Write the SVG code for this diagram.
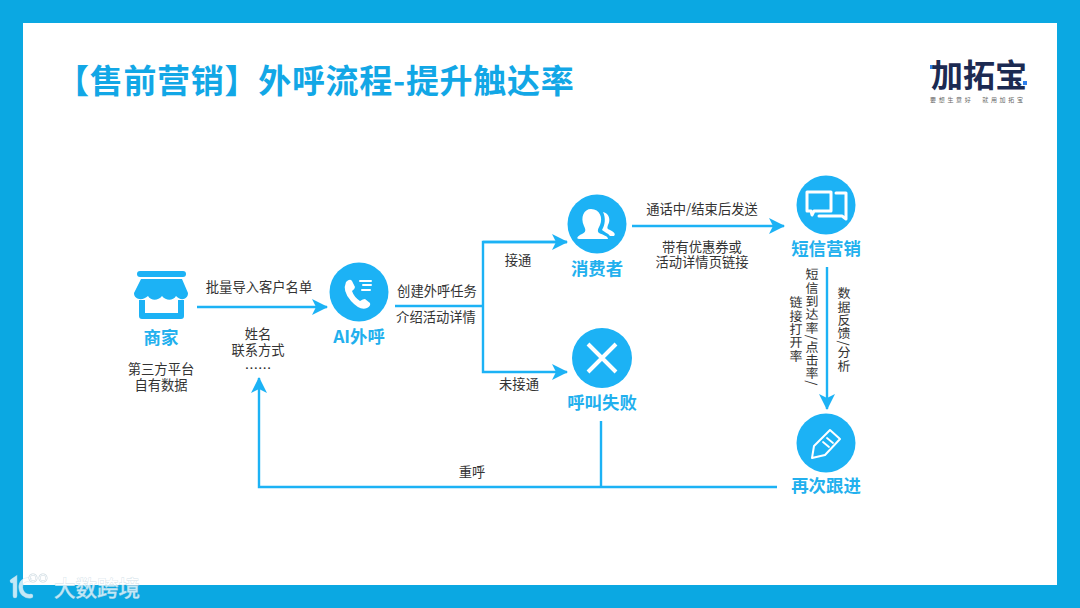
<svg xmlns="http://www.w3.org/2000/svg" width="1080" height="608" viewBox="0 0 1080 608">
<style>
text{font-family:"Noto Sans CJK SC","Noto Sans",sans-serif}
.t{font-size:13.3px;fill:#333;text-anchor:middle}
.n{font-size:17.4px;font-weight:700;fill:#22b0ee;text-anchor:middle}
.v{font-size:13px;fill:#333;writing-mode:vertical-rl;letter-spacing:.35px;text-rendering:geometricPrecision}
.c{fill:#1cb2f5}
.l{fill:none;stroke:#1cb2f5;stroke-width:2.4}
.i{fill:none;stroke:#fff;stroke-width:3;stroke-linejoin:round;stroke-linecap:round}
.f{fill:#fff}
.w{fill:none;stroke:#fff;stroke-width:3.5;stroke-linecap:round}
</style>
<defs><marker id="a" viewBox="0 0 16 16" refX="15" refY="8" markerWidth="16" markerHeight="16" markerUnits="userSpaceOnUse" orient="auto"><path d="M0 0L16 8L0 16L4 8Z" fill="#1cb2f5"/></marker></defs>
<rect width="1080" height="608" fill="#0ba8e2"/>
<rect x="23" y="23" width="1034" height="562" fill="#fff"/>
<text x="56" y="93" style="font-size:33px;font-weight:700;fill:#12a7e6;letter-spacing:.7px">【售前营销】外呼流程-提升触达率</text>
<g id="logo">
<rect x="930" y="65" width="4" height="4" fill="#2f80ed"/>
<rect x="1023" y="81" width="4" height="4" fill="#2f80ed"/>
<text x="979" y="87" style="font-size:32px;font-weight:700;fill:#1c2a52;text-anchor:middle">加拓宝</text>
<text x="930" y="102" style="font-size:6px;fill:#666;letter-spacing:2.7px">要想生意好　就用加拓宝</text>
</g>
<g id="connectors">
<path class="l" d="M197 307H327" marker-end="url(#a)"/>
<path class="l" d="M395 306H483"/>
<path class="l" d="M567 242H483V372H567" marker-end="url(#a)"/>
<path class="l" d="M483 242H567" marker-end="url(#a)"/>
<path class="l" d="M632 226H784" marker-end="url(#a)"/>
<path class="l" d="M827 267V409" marker-end="url(#a)"/>
<path class="l" d="M777 487H259V378" marker-end="url(#a)"/>
<path class="l" d="M601 421V487"/>
</g>
<g id="merchant">
<rect x="137" y="271" width="49" height="6" rx="3" class="c"/>
<path class="c" d="M141 279H182L188 293C188 300 180 301 176 296C173 301 166 301 162 296C158 301 151 301 148 296C143 301 134 300 134 293Z"/>
<path class="c" d="M139 300V316Q139 319 142 319H181Q184 319 184 316V300H178V313H145V300Z"/>
<text class="n" x="161" y="344">商家</text>
<text class="t" x="161" y="374">第三方平台</text>
<text class="t" x="161" y="390">自有数据</text>
</g>
<text class="t" x="259" y="292">批量导入客户名单</text>
<text class="t" x="258" y="339">姓名</text>
<text class="t" x="258" y="355">联系方式</text>
<text class="t" x="258" y="373">……</text>
<g id="ai">
<circle class="c" cx="359" cy="292" r="29.5"/>
<path class="f" d="M346 282Q350 278 352 281L355 287Q355 289 352 291Q354 297 360 301Q363 299 365 299L370 303Q371 306 367 308Q360 311 351 301Q342 291 346 282Z"/>
<path class="i" style="stroke-width:2" d="M360 281H371M363 285H371M362 290H370"/>
<text class="n" x="359" y="343">AI外呼</text>
</g>
<text class="t" x="437" y="296">创建外呼任务</text>
<text class="t" x="436" y="322">介绍活动详情</text>
<text class="t" x="518" y="265">接通</text>
<text class="t" x="519" y="389">未接通</text>
<g id="consumer">
<circle class="c" cx="597" cy="224" r="29.5"/>
<path class="f" d="M591 209C600 209 603 218 600 225C598 229 597 231 599 233C603 235 608 236 608 239H579C576 239 577 236 582 234C586 232 586 230 584 226C580 217 584 209 591 209Z"/>
<path class="f" d="M603 212C609 213 611 220 608 225C607 228 607 229 610 230C614 232 616 234 614 236H610C608 233 604 232 602 230C605 225 606 218 603 212Z"/>
<text class="n" x="597" y="275">消费者</text>
</g>
<text class="t" x="702" y="214">通话中/结束后发送</text>
<text class="t" x="702" y="252">带有优惠券或</text>
<text class="t" x="702" y="267">活动详情页链接</text>
<g id="sms">
<circle class="c" cx="826" cy="205" r="29.5"/>
<path class="i" d="M807 192H831V211H814L812 215L811 211H807Z"/>
<path class="i" d="M836 193H846V219L842 216H819"/>
<text class="n" x="826" y="255">短信营销</text>
</g>
<text class="v" x="812" y="268">短信到达率/点击率/</text>
<text class="v" x="796" y="296">链接打开率</text>
<text class="v" x="844" y="287">数据反馈/分析</text>
<g id="fail">
<circle class="c" cx="602" cy="358" r="30"/>
<path class="i" style="stroke-width:4;stroke-linecap:butt" d="M588 344L616 372M616 344L588 372"/>
<text class="n" x="602" y="409">呼叫失败</text>
</g>
<text class="t" x="472" y="477">重呼</text>
<g id="followup">
<circle class="c" cx="826" cy="443" r="29.5"/>
<path class="i" style="stroke-width:2" d="M830 430L840 439L825 455L812 458L814 446Z"/>
<path class="i" style="stroke-width:1.8" d="M827 438L833 443M823 442L829 447"/>
<text class="n" x="826" y="492">再次跟进</text>
</g>
<g id="watermark" opacity=".75">
<path d="M12 581L15 579V596M30 580C17 577 18 598 31 596" fill="none" stroke="#cfe0ea" stroke-width="4.5" stroke-linecap="round"/>
<path class="w" d="M12 581L15 579V596M30 580C17 577 18 598 31 596"/>
<circle cx="33" cy="578" r="3.5" fill="none" stroke="#b5c9d4" stroke-width="2"/>
<circle cx="33" cy="578" r="3.5" fill="none" stroke="#fff" stroke-width="1"/>
<circle cx="43" cy="578" r="3.5" fill="none" stroke="#b5c9d4" stroke-width="2"/>
<circle cx="43" cy="578" r="3.5" fill="none" stroke="#fff" stroke-width="1"/>
<text x="54" y="596" style="font-size:21.5px;fill:#fff;stroke:#c3d6e1;stroke-width:.8px;paint-order:stroke">大数跨境</text>
</g>
</svg>
